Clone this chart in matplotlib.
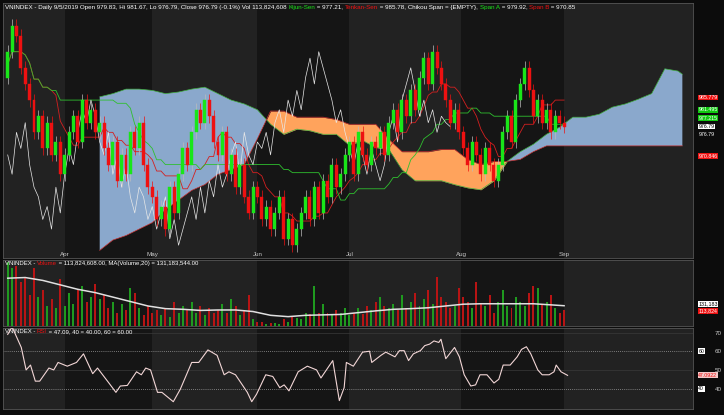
import numpy as np
import pandas as pd
import matplotlib
matplotlib.use("Agg")
import matplotlib.pyplot as plt

plt.rcParams['font.family'] = ['Liberation Sans', 'DejaVu Sans']

# -------------------------
# data
# -------------------------
closes = [1000, 1008, 1005, 995, 990, 985,
          975, 980, 970, 978, 968, 972, 962,
          968, 975, 980, 972, 985, 978, 982, 975,
          978, 970, 965, 972, 960, 968, 962,
          975, 970, 978, 965, 958, 955,
          948, 952, 945, 958, 950, 962, 970,
          965, 975, 982, 978, 985, 980,
          972, 968, 975, 962, 968, 958,
          965, 955, 950, 958, 955,
          948, 952, 945, 950, 955, 942,
          948, 940, 945, 950, 955, 948, 958,
          950, 960, 955, 965, 958, 962, 968,
          972, 962, 975, 968, 965, 972, 970,
          975, 968, 978, 982, 975, 985, 980,
          988, 982, 992, 998, 990, 1000, 995,
          990, 985, 978, 982, 975, 970,
          965, 972, 968, 962, 970, 965, 960,
          965, 975, 980, 972, 985, 990, 995,
          988, 980, 985, 978, 982, 975, 980, 978, 976.79]
first_open = 992.0

volume = [330, 300, 310, 240, 260, 180, 300, 170, 200, 130,
          160, 120, 250, 130, 190, 140, 200, 220, 150, 170,
          230, 160, 180, 120, 150, 100, 140, 110, 210, 190,
          120, 90, 130, 100, 110, 90, 120, 80, 150, 100,
          130, 110, 150, 100, 130, 90, 120, 100, 110, 140,
          100, 160, 130, 90, 110, 180, 70, 60, 60, 50,
          55, 55, 50, 70, 60, 80, 75, 70, 100, 95,
          220, 100, 140, 100, 90, 110, 100, 120, 90, 100,
          120, 95, 130, 110, 150, 170, 130, 120, 140, 110,
          180, 120, 150, 190, 130, 160, 200, 140, 260, 170,
          150, 120, 130, 210, 170, 150, 120, 240, 140, 130,
          180, 100, 150, 200, 130, 120, 170, 150, 130, 190,
          220, 210, 140, 150, 180, 120, 100, 113.8]

vol_ma_bar = [0, 4, 8, 12, 16, 20, 24, 28, 32, 36, 40, 44, 48, 52, 56, 60, 64,
              68, 72, 76, 80, 84, 88, 92, 96, 100, 104, 108, 112, 116, 120, 124, 127]
vol_ma = [255, 258, 245, 225, 205, 190, 170, 150, 130, 118, 115, 110, 112, 112, 105, 88, 82,
          88, 90, 92, 100, 108, 115, 118, 122, 130, 138, 140, 140, 140, 140, 135, 131.18]

cloud_bar = [21, 24, 27, 30, 33, 36, 39, 42, 45, 48, 51, 54, 57, 60, 63, 66, 69, 72, 75, 78,
             81, 84, 87, 90, 93, 96, 99, 102, 105, 108, 111, 114, 117, 120, 123, 126, 129,
             132, 135, 138, 141, 144, 147, 150, 153, 154]
span_a = [986, 987, 988.4, 988.4, 988, 987, 987.5, 988.4, 989, 987, 985, 983.8, 982, 977.5,
          974.4, 976, 975.5, 974.4, 974.4, 971, 972.5, 970.3, 969.7, 963.4, 960, 960, 960,
          958.8, 957.8, 957.2, 960, 966, 969, 971.3, 974.4, 976.6, 979.7, 979.7, 980.6,
          982.8, 983.8, 985.3, 987, 994.7, 994, 993]
span_b = [938.4, 941.6, 943, 945, 947, 951, 954, 957, 958.8, 962, 963.4, 965, 973, 981.6,
          981.6, 979.7, 979.7, 979.7, 979, 977.5, 977.5, 977.5, 972.8, 969, 969, 969, 969.7,
          969.7, 966.6, 965, 966, 966, 966.6, 969, 970.8, 970.8, 970.8, 970.8, 970.8, 970.8,
          970.8, 970.8, 970.8, 970.8, 970.8, 970.8]

rsi_bar = [0, 1, 3.1, 4.2, 5.2, 6.3, 7.3, 9.4, 10.5, 11.5, 13.6, 15.7, 17.3, 19.4, 20.5, 23.1,
           24.7, 25.7, 27.3, 29.4, 30.5, 31.5, 32.6, 34.2, 35.2, 37.8, 39.4, 42, 43.6, 45.7,
           47.8, 49.4, 50.5, 52, 54.7, 55.7, 56.8, 58.9, 60.5, 62.1, 63.1, 64.2, 66.3, 68.4,
           70.5, 71.5, 74.2, 75.7, 76.8, 77.3, 78.9, 81, 82.6, 83.1, 85.2, 86.3, 88.4, 89.4,
           90.5, 91.5, 92.6, 94.2, 95.2, 96.3, 97.3, 98.4, 98.9, 100, 102, 103.1, 104.2,
           105.7, 106.8, 107.8, 109.4, 111, 112.1, 113.1, 114.7, 116.3, 117.3, 118.4, 119.4,
           121, 122, 123.6, 124.7, 125.2, 126.3, 127.8]
rsi = [69, 73, 62, 50, 52.6, 44, 44, 51, 50, 54, 52, 54, 58.6, 48, 51, 43, 38, 41.4, 41.7,
       49, 47.4, 51, 50, 38, 38, 33, 39.7, 54, 54, 60.7, 57.8, 47.4, 49, 47.4, 38, 33, 37,
       47.4, 46.5, 40.5, 42, 38.8, 49, 52, 50, 45.7, 55, 33.6, 40.5, 54, 52, 59.5, 60, 54,
       57.8, 59.5, 57, 60.3, 60.3, 55, 58.6, 60.3, 63, 63.8, 65.5, 64.7, 66.4, 56, 62, 57,
       47.4, 41.4, 42, 47.4, 47.4, 43, 45, 52.6, 52.6, 57, 61, 62.4, 58.6, 50, 47.4, 47.4,
       49, 52.6, 49, 47.09]

month_names = ["Apr", "May", "Jun", "Jul", "Aug", "Sep"]
month_bar = [13, 33, 57, 78, 103.5, 127]

# -------------------------
# derived series
# -------------------------
df = pd.DataFrame({"close": closes})
df["open"] = df["close"].shift(1).fillna(first_open)
df["high"] = df[["open", "close"]].max(axis=1) + 2.0
df["low"] = df[["open", "close"]].min(axis=1) - 2.0
tenkan = (df["high"].rolling(9, min_periods=1).max() + df["low"].rolling(9, min_periods=1).min()) / 2
kijun = (df["high"].rolling(26, min_periods=1).max() + df["low"].rolling(26, min_periods=1).min()) / 2
idx = np.arange(len(df))
up = df["close"] >= df["open"]

BG = "#151515"
BAND = "#222222"
GRID = "#3a3a3a"
GREEN = "#19e619"
RED = "#ee1111"
TXT = "#c8c8c8"

fig = plt.figure(figsize=(7.24, 4.15), dpi=100, facecolor="#0c0c0c")
ax = fig.add_axes([0.004, 0.378, 0.953, 0.614])
axv = fig.add_axes([0.004, 0.2145, 0.953, 0.158])
axr = fig.add_axes([0.004, 0.014, 0.953, 0.196])

edges = [-1.1, 13, 33, 57, 78, 103.5, 127, 156.4]
for a in (ax, axv, axr):
    a.set_facecolor(BG)
    for k in range(len(edges) - 1):
        if k % 2 == 0:
            a.axvspan(edges[k], edges[k + 1], color=BAND, lw=0, zorder=0)
    a.set_xlim(-1.1, 156.4)
    a.set_xticks([])
    a.yaxis.tick_right()
    a.tick_params(axis="y", length=0, labelsize=4.5, colors=TXT, pad=2)
    for s in a.spines.values():
        s.set_color("#555555")
        s.set_linewidth(0.6)

# cloud
ca = np.array(span_a)
cb = np.array(span_b)
ax.fill_between(cloud_bar, ca, cb, where=ca >= cb, interpolate=True, color="#8aa8cc", lw=0, zorder=1)
ax.fill_between(cloud_bar, ca, cb, where=ca < cb, interpolate=True, color="#ffa35c", lw=0, zorder=1)
ax.plot(cloud_bar, ca, color="#3fae3f", lw=0.5, zorder=2)
ax.plot(cloud_bar, cb, color="#c83030", lw=0.5, zorder=2)

# lines
ax.plot(idx, tenkan, color="#d42020", lw=0.6, zorder=3)
ax.plot(idx, kijun, color="#2fbf2f", lw=0.6, zorder=3)
ax.plot(idx[26:] - 26, df["close"].values[26:], color="#e8e8e8", lw=0.5, zorder=3)

# candles
for i in idx:
    c = GREEN if up[i] else RED
    o, cl = df["open"][i], df["close"][i]
    ax.vlines(i, df["low"][i], df["high"][i], color="#bbbbbb" if up[i] else RED, lw=0.5, zorder=4)
    ax.bar(i, abs(cl - o) if abs(cl - o) > 0.3 else 0.3, bottom=min(o, cl), width=0.68,
           color=c, edgecolor=c, lw=0.3, zorder=5)

ax.set_ylim(936, 1015)
ax.set_yticks([])
for name, b in zip(month_names, month_bar):
    ax.text(b, 936.5, name, color=TXT, fontsize=4.5, ha="center", va="bottom")

# right-side value boxes
def tag(a, y, s, fc, tc="white"):
    a.text(1.008, y, s, transform=a.get_yaxis_transform(), fontsize=3.8, color=tc, va="center",
           ha="left", bbox=dict(boxstyle="square,pad=0.08", fc=fc, ec="none"), clip_on=False)

tag(ax, 985.78, "985.779", RED)
tag(ax, 982.0, "981.495", "#11c811")
tag(ax, 979.4, "977.215", "#11c811")
tag(ax, 976.8, "976.79", "white", "black")
tag(ax, 974.2, "976.79", "#0c0c0c", "white")
tag(ax, 967.6, "970.846", RED)

# header
t = ax.text(0.003, 0.995, "VNINDEX - Daily 9/5/2019 Open 979.83, Hi 981.67, Lo 976.79, Close 976.79 (-0.1%) Vol 113,824,608 ",
            transform=ax.transAxes, fontsize=4.5, color="white", va="top", ha="left")
parts = [("Kijun-Sen", GREEN), (" = 977.21, ", "white"), ("Tenkan-Sen", RED),
         (" = 985.78, Chikou Span = {EMPTY}, ", "white"), ("Span A", GREEN),
         (" = 979.92, ", "white"), ("Span B", RED), (" = 970.85", "white")]
for s, c in parts:
    t = ax.annotate(s, xycoords=t, xy=(1, 0), va="bottom", ha="left", fontsize=4.5, color=c)

# volume
vcol = ["#1f9a1f" if u else "#b81414" for u in up]
axv.bar(idx, volume, width=0.45, color=vcol, zorder=3)
axv.plot(vol_ma_bar, vol_ma, color="#e0e0e0", lw=1.1, zorder=4)
axv.set_ylim(40, 335)
axv.set_yticks([])
tag(axv, 138, "131,183", "white", "black")
tag(axv, 108, "113,824", RED)
t = axv.text(0.003, 0.985, "VNINDEX - ", transform=axv.transAxes, fontsize=4.3, color="white", va="top")
t = axv.annotate("Volume", xycoords=t, xy=(1, 0), va="bottom", fontsize=4.3, color=RED)
axv.annotate(" = 113,824,608.00, MA(Volume,20) = 131,183,544.00", xycoords=t, xy=(1, 0),
             va="bottom", fontsize=4.3, color="white")

# rsi
axr.plot(rsi_bar, rsi, color="#f2d6d6", lw=0.8, zorder=4)
axr.axhline(60, color="#9a9a9a", lw=0.6, ls=(0, (1, 1.5)), zorder=2)
axr.axhline(40, color="#9a9a9a", lw=0.6, ls=(0, (1, 1.5)), zorder=2)
axr.axhline(50, color=GRID, lw=0.5, zorder=2)
axr.axhline(70, color=GRID, lw=0.5, zorder=2)
axr.set_ylim(29, 72.5)
axr.set_yticks([40, 50, 60, 70])
axr.set_yticklabels(["40", "50", "60", "70"])
axr.tick_params(axis="y", pad=16)
tag(axr, 60, "60", "white", "black")
tag(axr, 40, "40", "white", "black")
tag(axr, 47.09, "47.0922", "#f2c8c8", RED)
t = axr.text(0.003, 0.985, "VNINDEX - ", transform=axr.transAxes, fontsize=4.3, color="white", va="top")
t = axr.annotate("RSI", xycoords=t, xy=(1, 0), va="bottom", fontsize=4.3, color=RED)
axr.annotate(" = 47.09, 40 = 40.00, 60 = 60.00", xycoords=t, xy=(1, 0),
             va="bottom", fontsize=4.3, color="white")

fig.savefig("out.png", dpi=100, facecolor=fig.get_facecolor())
